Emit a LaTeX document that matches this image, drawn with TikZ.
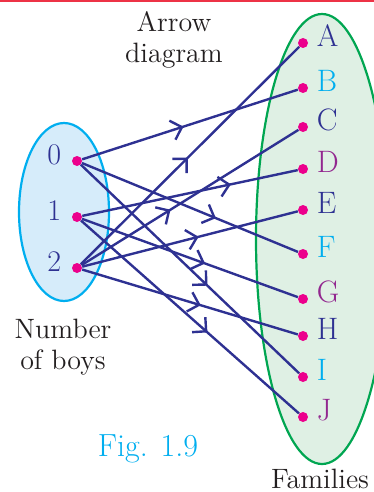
\documentclass[tikz,border=0pt]{standalone}
\usepackage{xcolor}
\usepackage{tikz}
\usetikzlibrary{shapes.geometric,arrows.meta,positioning,decorations.markings}

\definecolor{mapblue}{RGB}{46,49,146}
\definecolor{dotpink}{RGB}{236,0,140}
\definecolor{boycyan}{RGB}{0,174,239}
\definecolor{boyfill}{RGB}{214,236,250}
\definecolor{famgreen}{RGB}{0,166,81}
\definecolor{famfill}{RGB}{223,240,228}
\definecolor{fampurple}{RGB}{146,39,143}
\definecolor{textgray}{RGB}{35,31,32}
\definecolor{topred}{RGB}{237,50,70}

\begin{document}
\begin{tikzpicture}[x=0.5pt, y=-0.5pt,
    dot/.style={circle, fill=dotpink, inner sep=0pt, minimum size=5pt},
    setname/.style={font=\fontsize{14}{15.5}\selectfont, text=textgray, align=center, inner sep=0pt},
    boylabel/.style={font=\fontsize{15}{18}\selectfont, text=mapblue, inner sep=0pt, text height=0.65em, text depth=0pt, yshift=1.3pt},
    famlabel/.style={font=\fontsize{15.5}{18}\selectfont, text=#1, inner sep=0pt, text height=0.683em, text depth=0pt, yshift=1.5pt},
    famlabel/.default=mapblue,
    maparrow/.style={draw=mapblue, line width=1.2pt, postaction={decorate},
        decoration={markings, mark=at position #1 with {\arrow{Straight Barb[length=5pt, width=10pt]}}}},
    maparrow/.default=0.55
]
    \useasboundingbox (0,0) rectangle (374,492);
    \clip (0,0) rectangle (374,492);
    \fill[topred] (0,0) rectangle (374,2);

    % the two sets
    \draw[draw=boycyan, fill=boyfill, line width=1.1pt] (64,212) ellipse [x radius=45, y radius=89];
    \draw[draw=famgreen, fill=famfill, line width=1.1pt] (322,239) ellipse [x radius=66, y radius=225];

    % number of boys
    \node[dot] (b0) at (77,161) {};
    \node[dot] (b1) at (77,217) {};
    \node[dot] (b2) at (77,268) {};
    \node[boylabel, left=5pt of b0] (l0) {0};
    \node[boylabel, left=5pt of b1] (l1) {1};
    \node[boylabel, left=5pt of b2] (l2) {2};

    % families
    \node[dot] (fA) at (303,43) {};
    \node[dot] (fB) at (303,88) {};
    \node[dot] (fC) at (303,127) {};
    \node[dot] (fD) at (303,169) {};
    \node[dot] (fE) at (303,210) {};
    \node[dot] (fF) at (303,254) {};
    \node[dot] (fG) at (303,299) {};
    \node[dot] (fH) at (303,336) {};
    \node[dot] (fI) at (303,377) {};
    \node[dot] (fJ) at (303,417) {};
    \node[famlabel, right=4pt of fA] (lA) {A};
    \node[famlabel=boycyan, right=4pt of fB] (lB) {B};
    \node[famlabel, right=4pt of fC] (lC) {C};
    \node[famlabel=fampurple, right=4pt of fD] (lD) {D};
    \node[famlabel, right=4pt of fE] (lE) {E};
    \node[famlabel=boycyan, right=4pt of fF] (lF) {F};
    \node[famlabel=fampurple, right=4pt of fG] (lG) {G};
    \node[famlabel, right=4pt of fH] (lH) {H};
    \node[famlabel=boycyan, right=4pt of fI] (lI) {I};
    \node[famlabel=fampurple, right=4pt of fJ] (lJ) {J};

    % titles
    \node[setname] (title) at (174,40) {Arrow\\diagram};
    \node[setname] (boyname) at (63,347) {Number\\of boys};
    \node[setname, anchor=base] (famname) at (320,488) {Families};
    \node[font=\fontsize{16}{18}\selectfont, text=boycyan, anchor=base] (fig) at (148,456) {Fig. 1.9};

    % arrows from 0
    \draw[maparrow=0.47] (b0) -- (fB);
    \draw[maparrow=0.62] (b0) -- (fF);
    \draw[maparrow=0.58] (b0) -- (fI);

    % arrows from 1
    \draw[maparrow=0.69] (b1) -- (fD);
    \draw[maparrow=0.57] (b1) -- (fG);
    \draw[maparrow=0.58] (b1) -- (fJ);

    % arrows from 2
    \draw[maparrow=0.49] (b2) -- (fA);
    \draw[maparrow=0.41] (b2) -- (fC);
    \draw[maparrow=0.54] (b2) -- (fE);
    \draw[maparrow=0.55] (b2) -- (fH);

\end{tikzpicture}
\end{document}
